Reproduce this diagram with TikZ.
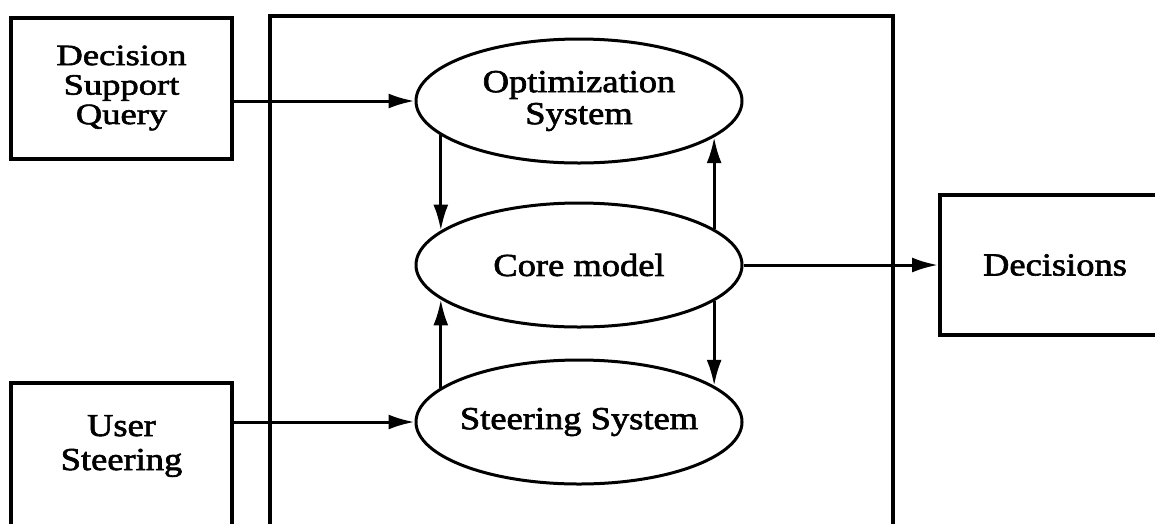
\documentclass[tikz,border=0pt]{standalone}
\usepackage{fontspec}
\setmainfont{Liberation Serif}[FakeStretch=1.14,FakeBold=2]
\newfontfamily\dsqfont{Liberation Serif}[FakeStretch=1.24,FakeBold=2]
\usetikzlibrary{shapes.geometric,arrows.meta}
\begin{document}
\begin{tikzpicture}[x=1pt,y=-1pt,
  box/.style={draw, line width=4pt, inner sep=0pt},
  ell/.style={draw, ellipse, line width=3pt, minimum width=326pt, minimum height=124pt, inner sep=0pt},
  lbl/.style={font=\fontsize{32}{32}\selectfont, align=center},
  arr/.style={line width=3pt, -{Latex[length=26pt,width=15pt]}}]
\clip (0,0) rectangle (1155,523);
\useasboundingbox (0,0) rectangle (1155,523);
\node[box, minimum width=623pt, minimum height=544pt] (frame) at (581.5,288) {};
\node[box, minimum width=221pt, minimum height=141pt, lbl, font=\dsqfont\fontsize{29.5}{29.5}\selectfont] (dsq) at (121.5,88) {Decision\\Support\\Query};
\node[box, minimum width=221pt, minimum height=177pt] (us) at (121.5,471.5) {};
\node[lbl, font=\fontsize{32}{34}\selectfont] (ustxt) at (121.5,446) {User\\Steering};
\node[box, minimum width=230pt, minimum height=140pt, lbl] (dec) at (1055,265) {Decisions};
\node[ell, label={[lbl]center:{Optimization\\System}}] (opt) at (579,101) {};
\node[ell, label={[lbl]center:{Core model}}] (core) at (579,265) {};
\node[ell, label={[lbl]center:{Steering System}}] (ss) at (579,422) {};
\draw[arr] (dsq.east |- opt.west) -- (opt.west);
\draw[arr] (us.east |- ss.west) -- (ss.west);
\draw[arr] (core.east) -- (dec.west);
\draw[arr] (opt.194) -- (core.166);
\draw[arr] (core.15) -- (opt.-15);
\draw[arr] (ss.166) -- (core.194);
\draw[arr] (core.-15) -- (ss.15);
\end{tikzpicture}
\end{document}
